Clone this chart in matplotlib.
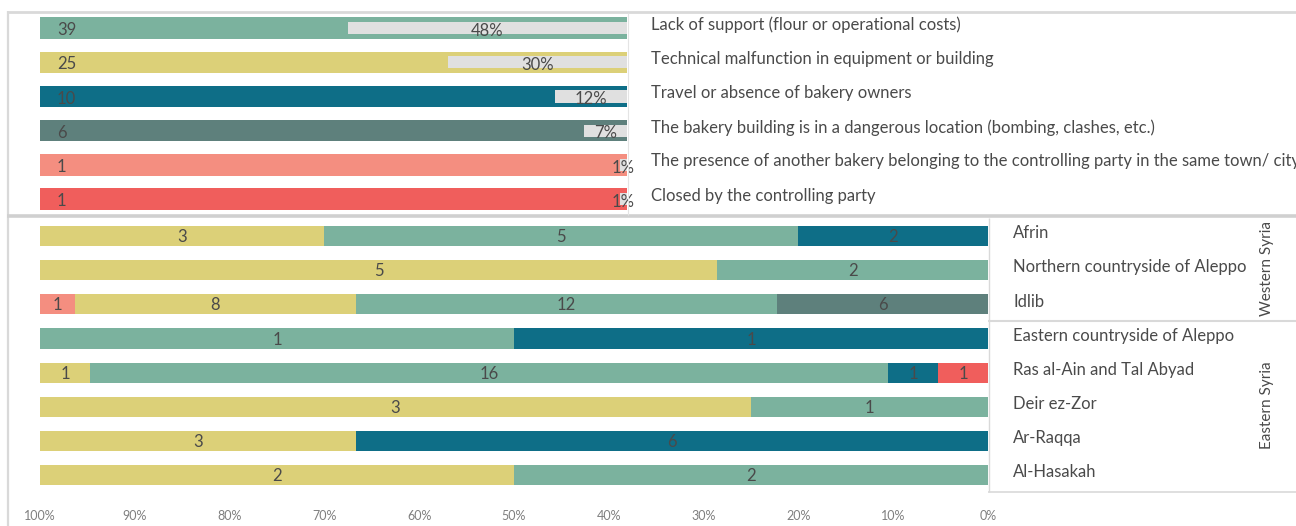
import numpy as np
import matplotlib.pyplot as plt
from matplotlib.lines import Line2D

W, H = 1296, 526

reasons = [
    "Lack of support (flour or operational costs)",
    "Technical malfunction in equipment or building",
    "Travel or absence of bakery owners",
    "The bakery building is in a dangerous location (bombing, clashes, etc.)",
    "The presence of another bakery belonging to the controlling party in the same town/ city",
    "Closed by the controlling party",
]
reason_counts = [39, 25, 10, 6, 1, 1]
reason_colors = ["#7BB29E", "#DCD078", "#0E6E87", "#5E807C", "#F48E80", "#F05E5C"]

regions = ["Afrin", "Northern countryside of Aleppo", "Idlib",
           "Eastern countryside of Aleppo", "Ras al-Ain and Tal Abyad",
           "Deir ez-Zor", "Ar-Raqqa", "Al-Hasakah"]
# counts per region for each reason, stacked from 0% (right) outward
closed = [0, 0, 0, 0, 1, 0, 0, 0]
travel = [2, 0, 0, 1, 1, 0, 6, 0]
danger = [0, 0, 6, 0, 0, 0, 0, 0]
lack = [5, 2, 12, 1, 16, 1, 0, 2]
tech = [3, 5, 8, 0, 1, 3, 3, 2]
presence = [0, 0, 1, 0, 0, 0, 0, 0]
stack = [(closed, "#F05E5C"), (travel, "#0E6E87"), (danger, "#5E807C"),
         (lack, "#7BB29E"), (tech, "#DCD078"), (presence, "#F48E80")]
pct_ticks = [100, 90, 80, 70, 60, 50, 40, 30, 20, 10, 0]

FONT = "Lato"
TXT = "#4A4A4A"
plt.rcParams["font.family"] = [FONT, "DejaVu Sans"]


def px_axes(fig, x0, y0, x1, y1):
    return fig.add_axes([x0 / W, 1 - y1 / H, (x1 - x0) / W, (y1 - y0) / H])


fig = plt.figure(figsize=(W / 100, H / 100), dpi=100)

# ---------- top: reasons ----------
ax = px_axes(fig, 40, 11, 627, 216.2)
total = sum(reason_counts)
pcts = [c / total * 100 for c in reason_counts]
y = np.arange(len(reasons))
ax.barh(y, [100] * len(y), height=0.62, color=reason_colors, zorder=2)
ax.barh(y, pcts, height=0.36, color="#E0E0E0", zorder=3)
for i, (c, p) in enumerate(zip(reason_counts, pcts)):
    ax.text(100 - 17 / 587 * 100, i + 0.06, str(c), ha="left", va="center",
            fontsize=12, color=TXT, zorder=4)
    ax.text(p / 2, i + 0.08, f"{round(p)}%", ha="center", va="center",
            fontsize=12, color=TXT, zorder=4)
    ax.text(-24 / 587 * 100, i - 0.1, reasons[i], ha="left", va="center",
            fontsize=12, color=TXT, clip_on=False)
ax.set_xlim(100, 0)
ax.set_ylim(len(y) - 0.5, -0.5)
ax.axis("off")

# ---------- bottom: regions ----------
bx = px_axes(fig, 40, 219, 988, 492.2)
yr = np.arange(len(regions))
totals = np.sum([s[0] for s in stack], axis=0)
left = np.zeros(len(regions))
for vals, col in stack:
    share = np.array(vals) / totals * 100
    bx.barh(yr, share, left=left, height=0.59, color=col, zorder=2)
    for i, (v, s) in enumerate(zip(vals, share)):
        if v:
            bx.text(left[i] + s / 2, i + 0.03, str(v), ha="center", va="center",
                    fontsize=12, color=TXT, zorder=4)
    left += share
for i, r in enumerate(regions):
    bx.text(-25 / 948 * 100, i - 0.08, r, ha="left", va="center",
            fontsize=12, color=TXT, clip_on=False)
bx.set_xlim(100, 0)
bx.set_ylim(len(regions) - 0.5, -0.5)
bx.set_xticks(pct_ticks)
bx.set_xticklabels([f"{t}%" for t in pct_ticks], fontsize=9, color="#7F7F7F")
bx.tick_params(axis="x", length=0, pad=13)
bx.set_yticks([])
for sp in bx.spines.values():
    sp.set_visible(False)

fig.text(1267 / W, 1 - 269 / H, "Western Syria", rotation=90, ha="center",
         va="center", fontsize=11, color=TXT)
fig.text(1267 / W, 1 - 405 / H, "Eastern Syria", rotation=90, ha="center",
         va="center", fontsize=11, color=TXT)

# ---------- frames ----------
def fline(xs, ys, lw, col="#D9D9D9"):
    fig.add_artist(Line2D([x / W for x in xs], [1 - v / H for v in ys],
                          lw=lw, color=col, solid_capstyle="butt"))

fline([7, W], [12, 12], 2)
fline([7.5, 7.5], [11, H], 1.6)
fline([7, W], [216, 216], 2.6, "#D0D0D0")
fline([627.5, 627.5], [13, 215], 0.8, "#E4E4E4")
fline([988.5, 988.5], [218, 492], 1, "#D9D9D9")
fline([988, W], [492, 492], 1.2, "#D9D9D9")
fline([988, W], [321, 321], 1.5, "#D9D9D9")

fig.savefig("out.png", dpi=100)
